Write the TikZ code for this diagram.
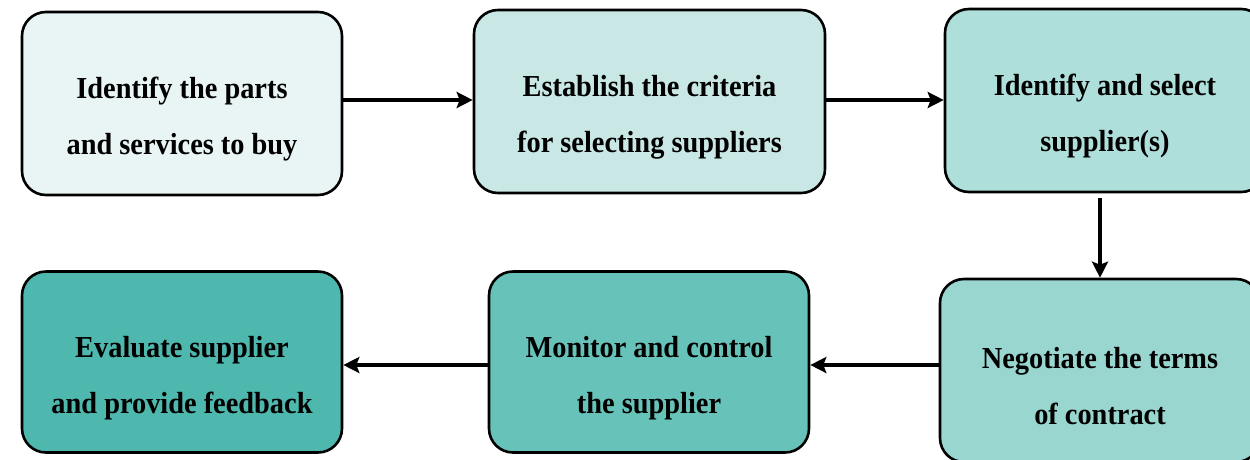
\documentclass[tikz,border=0pt]{standalone}
\usepackage{fontspec}
\setmainfont{Liberation Serif}[FakeStretch=0.93]
\usetikzlibrary{arrows.meta}

\definecolor{stepA}{HTML}{E8F5F4}
\definecolor{stepB}{HTML}{C9E8E5}
\definecolor{stepC}{HTML}{AEDFDB}
\definecolor{stepD}{HTML}{9AD6D0}
\definecolor{stepE}{HTML}{67C3B9}
\definecolor{stepF}{HTML}{4EB8AE}

\tikzset{
  stepbox/.style={draw=black, line width=2.6pt, rounded corners=24pt,
    minimum height=183pt, inner sep=0pt},
  steptext/.style={align=center, text=black, inner sep=0pt,
    font=\bfseries\fontsize{30.5}{56}\selectfont},
  arr/.style={line width=4.5pt, draw=black,
    -{Stealth[length=16pt,width=16pt,inset=3pt]}}
}

\begin{document}
\begin{tikzpicture}[x=1pt, y=-1pt]
  \useasboundingbox (0,0) rectangle (1250,459);

  % process steps
  \node[stepbox, fill=stepA, minimum width=320pt] (b1) at (182,103.5) {};
  \node[stepbox, fill=stepB, minimum width=351pt] (b2) at (649.5,101.5) {};
  \node[stepbox, fill=stepC, minimum width=320pt] (b3) at (1105,100.5) {};
  \node[stepbox, fill=stepD, minimum width=320pt] (b4) at (1100,370.5) {};
  \node[stepbox, fill=stepE, minimum width=320pt, minimum height=181pt] (b5) at (649,362) {};
  \node[stepbox, fill=stepF, minimum width=320pt, minimum height=181pt] (b6) at (182,362) {};

  % step labels, set a little below the middle of each box
  \node[steptext] (t1) at ([yshift=-16pt]b1.center) {Identify the parts\\and services to buy};
  \node[steptext] (t2) at ([yshift=-16pt]b2.center) {Establish the criteria\\for selecting suppliers};
  \node[steptext] (t3) at ([yshift=-16pt]b3.center) {Identify and select\\supplier(s)};
  \node[steptext] (t4) at ([yshift=-16pt]b4.center) {Negotiate the terms\\of contract};
  \node[steptext] (t5) at ([yshift=-16pt]b5.center) {Monitor and control\\the supplier};
  \node[steptext] (t6) at ([yshift=-16pt]b6.center) {Evaluate supplier\\and provide feedback};

  % connector heights
  \coordinate (ytop) at (0,100);
  \coordinate (ybot) at (0,365);

  % flow
  \draw[arr] (b1.east |- ytop) -- (b2.west |- ytop);
  \draw[arr] (b2.east |- ytop) -- (b3.west |- ytop);
  \draw[arr] ([yshift=-5pt]b3.south -| b4.north) -- (b4.north);
  \draw[arr] (b4.west |- ybot) -- (b5.east |- ybot);
  \draw[arr] (b5.west |- ybot) -- (b6.east |- ybot);
\end{tikzpicture}
\end{document}
